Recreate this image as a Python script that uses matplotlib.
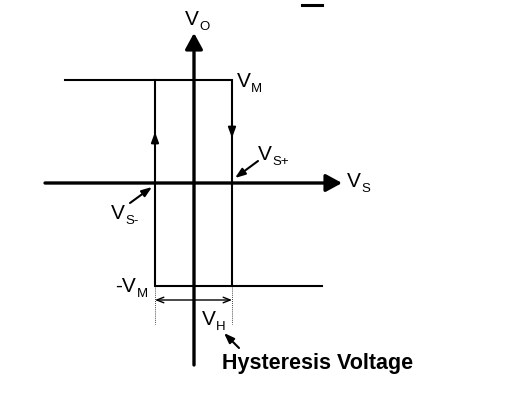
import matplotlib.pyplot as plt
from matplotlib.patches import FancyArrowPatch

plt.rcParams['font.family'] = ['Liberation Sans', 'DejaVu Sans']

# diagram values (origin at the axis crossing, pixel-like units)
v_m = 103            # output saturation level +V_M / -V_M
v_s_plus = 38        # upper switching threshold
v_s_minus = -39      # lower switching threshold
vs_left = -129       # left end of the +V_M line
vs_right = 128       # right end of the -V_M line
x_axis = [-149, 148]
y_axis = [150, -182]

fig = plt.figure(figsize=(5.09, 4.00), dpi=100)
ax = fig.add_axes([0, 0, 1, 1])
ax.set_xlim(-194, 315)
ax.set_ylim(-217, 183)
ax.axis('off')

# axes with arrows
head = '-|>,head_length=4.4,head_width=2.4'
ax.add_patch(FancyArrowPatch((x_axis[0], 0), (x_axis[1], 0), arrowstyle=head,
                             mutation_scale=2.2, lw=2.4, color='black', shrinkA=0, shrinkB=0))
ax.add_patch(FancyArrowPatch((0, y_axis[1]), (0, y_axis[0]), arrowstyle=head,
                             mutation_scale=2.2, lw=2.4, color='black', shrinkA=0, shrinkB=0))

# hysteresis loop
ax.plot([vs_left, v_s_plus, v_s_plus], [v_m, v_m, -v_m], color='black', lw=1.5, solid_joinstyle='miter')
ax.plot([v_s_minus, v_s_minus, vs_right], [v_m, -v_m, -v_m], color='black', lw=1.5, solid_joinstyle='miter')

small_head = dict(arrowstyle='-|>,head_length=0.6,head_width=0.22', color='black', lw=1.5,
                  shrinkA=0, shrinkB=0)

# direction arrows on the loop
ax.annotate('', xy=(v_s_minus, 51), xytext=(v_s_minus, 38), arrowprops=small_head)
ax.annotate('', xy=(v_s_plus, 45), xytext=(v_s_plus, 58), arrowprops=small_head)

# threshold pointers
ax.annotate('', xy=(v_s_plus + 3, 5), xytext=(64, 22), arrowprops=small_head)
ax.annotate('', xy=(v_s_minus - 3, -4), xytext=(-64, -20), arrowprops=small_head)

# hysteresis width
ax.annotate('', xy=(v_s_minus, -117), xytext=(v_s_plus, -117),
            arrowprops=dict(arrowstyle='<->,head_length=0.5,head_width=0.2', color='black', lw=1.0,
                            shrinkA=0, shrinkB=0))
for xv in (v_s_minus, v_s_plus):
    ax.plot([xv, xv], [-v_m, -141], color='black', lw=0.6, ls=(0, (1, 1.5)))
ax.annotate('', xy=(30, -150), xytext=(45, -165), arrowprops=small_head)

# stray bar at the top
ax.plot([108, 128], [178.5, 178.5], color='black', lw=2.2)

big, small = 15, 9.5
def label(x, y, main, sub, dx=14):
    ax.text(x, y, main, fontsize=big, ha='left', va='baseline')
    ax.text(x + dx, y - 5, sub, fontsize=small, ha='left', va='baseline')

label(-9, 158, 'V', 'O')
label(43, 96, 'V', 'M')
label(64, 23, 'V', 'S+')
label(153, -4, 'V', 'S')
label(-83, -36, 'V', 'S-')
label(-79, -109, '-V', 'M', dx=22)
label(8, -142, 'V', 'H')
ax.text(28, -186, 'Hysteresis Voltage', fontsize=15.5, fontweight='bold', ha='left', va='baseline')

fig.savefig('out.png', dpi=100)
